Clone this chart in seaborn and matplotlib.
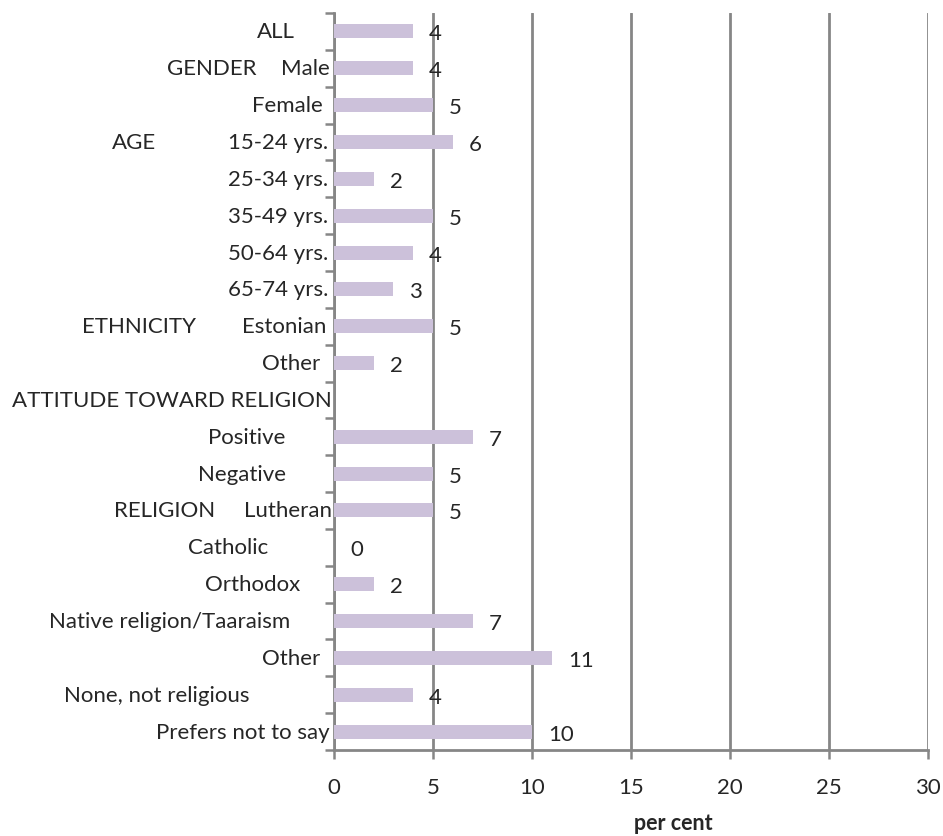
import matplotlib
matplotlib.use("Agg")
import matplotlib.pyplot as plt
import matplotlib.transforms as mtransforms
import numpy as np
import pandas as pd
import seaborn as sns

# ---- data -------------------------------------------------------------
categories = [
    "ALL", "Male", "Female",
    "15-24 yrs.", "25-34 yrs.", "35-49 yrs.", "50-64 yrs.", "65-74 yrs.",
    "Estonian", "Other",
    "ATTITUDE TOWARD RELIGION", "Positive", "Negative",
    "Lutheran", "Catholic", "Orthodox", "Native religion/Taaraism",
    "Other", "None, not religious", "Prefers not to say",
]
values = [4, 4, 5, 6, 2, 5, 4, 3, 5, 2, np.nan, 7, 5, 5, 0, 2, 7, 11, 4, 10]
group_labels = {1: "GENDER", 3: "AGE", 8: "ETHNICITY", 13: "RELIGION"}
x_ticks = [0, 5, 10, 15, 20, 25, 30]
x_label = "per cent"

# ---- layout (gap in pixels between label end and the value axis) -----
label_gap_px = [39, 4, 11, 6, 6, 6, 6, 6, 8, 14, 2, 49, 48, 2, 66, 34, 44, 14, 84, 4]
group_gap_px = {1: 77, 3: 178, 8: 138, 13: 119}

BAR_COLOR = "#CCC1DA"
GRID_COLOR = "#868686"
FONT = ["Lato", "DejaVu Sans"]
FS = 16

sns.set_style("white")
plt.rcParams["font.family"] = FONT

fig = plt.figure(figsize=(9.43, 8.37), dpi=100)
ax = fig.add_axes([334 / 943, 1 - 751 / 837, 594 / 943, 737 / 837])

df = pd.DataFrame({"row": [str(i) for i in range(len(categories))],
                   "value": values})
sns.barplot(data=df, y="row", x="value", orient="h", color=BAR_COLOR,
            saturation=1, width=0.38, errorbar=None, ax=ax,
            linewidth=0, zorder=3)

n = len(categories)
ax.set_xlim(x_ticks[0], x_ticks[-1])
ax.set_ylim(n - 0.5, -0.5)
ax.set_xticks(x_ticks)
ax.set_xticklabels([str(t) for t in x_ticks], fontsize=FS)
ax.set_yticks(np.arange(-0.5, n, 1.0))
ax.set_yticklabels([])
ax.set_ylabel("")
ax.set_xlabel(x_label, fontsize=15.5, fontweight="bold")
ax.xaxis.set_label_coords(0.571, -0.084)

ax.grid(axis="x", color=GRID_COLOR, linewidth=2.0, zorder=0)
ax.grid(axis="y", visible=False)
ax.set_axisbelow(True)
for side in ("top", "right"):
    ax.spines[side].set_visible(False)
for side in ("left", "bottom"):
    ax.spines[side].set_color(GRID_COLOR)
    ax.spines[side].set_linewidth(2.0)
ax.tick_params(axis="both", direction="out", length=6.5, width=1.8,
               color=GRID_COLOR, left=True, bottom=True)
ax.tick_params(axis="x", pad=13)

# category labels, right-aligned just left of the axis
base = ax.get_yaxis_transform()
for i, text in enumerate(categories):
    tr = mtransforms.offset_copy(base, fig=fig, x=-label_gap_px[i], y=0, units="dots")
    ax.text(0, i, text, transform=tr, ha="right", va="center", fontsize=FS)
for i, text in group_labels.items():
    tr = mtransforms.offset_copy(base, fig=fig, x=-group_gap_px[i], y=0, units="dots")
    ax.text(0, i, text, transform=tr, ha="right", va="center", fontsize=FS)

# value labels
for i, v in enumerate(values):
    if np.isnan(v):
        continue
    ax.annotate(f"{v:g}", xy=(v, i), xytext=(16, -2), textcoords="offset pixels",
                ha="left", va="center", fontsize=FS)

fig.savefig("out.png", dpi=100)
